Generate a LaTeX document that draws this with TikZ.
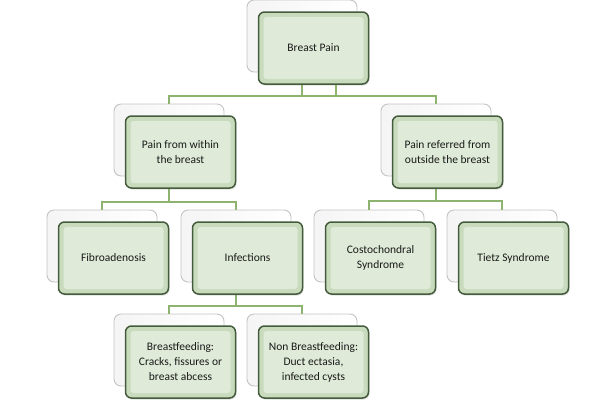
\documentclass[tikz,border=0pt]{standalone}
\usepackage{fontspec}
\setmainfont{Carlito}
\usepackage{xcolor}
\usepackage{tikz}
\usetikzlibrary{shadows}

\definecolor{boxedge}{HTML}{445C3B}
\definecolor{boxfill}{HTML}{C8DBBD}
\definecolor{boxlight}{HTML}{DFEBD8}
\definecolor{linkgreen}{HTML}{8DB36F}
\definecolor{cardedge}{HTML}{C4C4C4}

\begin{document}
\begin{tikzpicture}[
  x=1pt, y=-1pt,
  backcard/.style={draw=cardedge, line width=0.9pt, rounded corners=7pt, left color=black!4, right color=white, minimum width=110pt, minimum height=72pt, inner sep=0pt},
  frontbox/.style={draw=boxedge, line width=1.5pt, rounded corners=6pt, fill=boxfill, align=center, minimum width=110pt, minimum height=72pt, inner sep=2pt, font=\fontsize{11.5}{15}\selectfont, text=black!90,
    drop shadow={shadow xshift=1pt, shadow yshift=-1.5pt, opacity=0.25},
    path picture={\fill[boxlight, rounded corners=3pt] ([shift={(5pt,-5pt)}]path picture bounding box.north west) rectangle ([shift={(-5pt,5pt)}]path picture bounding box.south east);}},
  link/.style={draw=linkgreen, line width=1.2pt}
]
\useasboundingbox (0,0) rectangle (600,400);
% back cards
\foreach \n/\x/\y in {bp/302/36, within/169/140, referred/436/140, fibro/102/246, infect/236/246, costo/369/246, tietz/502/246, bfeed/169/350, nonbf/302/350}
  \node[backcard] (\n-back) at (\x,\y) {};
% connectors
\foreach \a/\b/\h in {bp/within/96, bp/referred/96, within/fibro/202, within/infect/202, referred/costo/201, referred/tietz/201, infect/bfeed/306, infect/nonbf/306}
  \draw[link] (\a-back.south) |- (\b-back.north |- 0,\h) -- (\b-back.north);
\coordinate (bpbar) at (336,96);
% front boxes
\node[frontbox] (bp) at ([shift={(11.5,12)}]bp-back) {Breast Pain};
\node[frontbox] (within) at ([shift={(11.5,12)}]within-back) {Pain from within\\the breast};
\node[frontbox] (referred) at ([shift={(11.5,12)}]referred-back) {Pain referred from\\outside the breast};
\node[frontbox] (fibro) at ([shift={(11.5,12)}]fibro-back) {Fibroadenosis};
\node[frontbox] (infect) at ([shift={(11.5,12)}]infect-back) {Infections};
\node[frontbox] (costo) at ([shift={(11.5,12)}]costo-back) {Costochondral\\Syndrome};
\node[frontbox] (tietz) at ([shift={(11.5,12)}]tietz-back) {Tietz Syndrome};
\node[frontbox] (bfeed) at ([shift={(11.5,12)}]bfeed-back) {Breastfeeding:\\Cracks, fissures or\\breast abcess};
\node[frontbox] (nonbf) at ([shift={(11.5,12)}]nonbf-back) {Non Breastfeeding:\\Duct ectasia,\\infected cysts};
\draw[link] (bp.south -| bpbar) -- (bpbar);
\end{tikzpicture}
\end{document}
